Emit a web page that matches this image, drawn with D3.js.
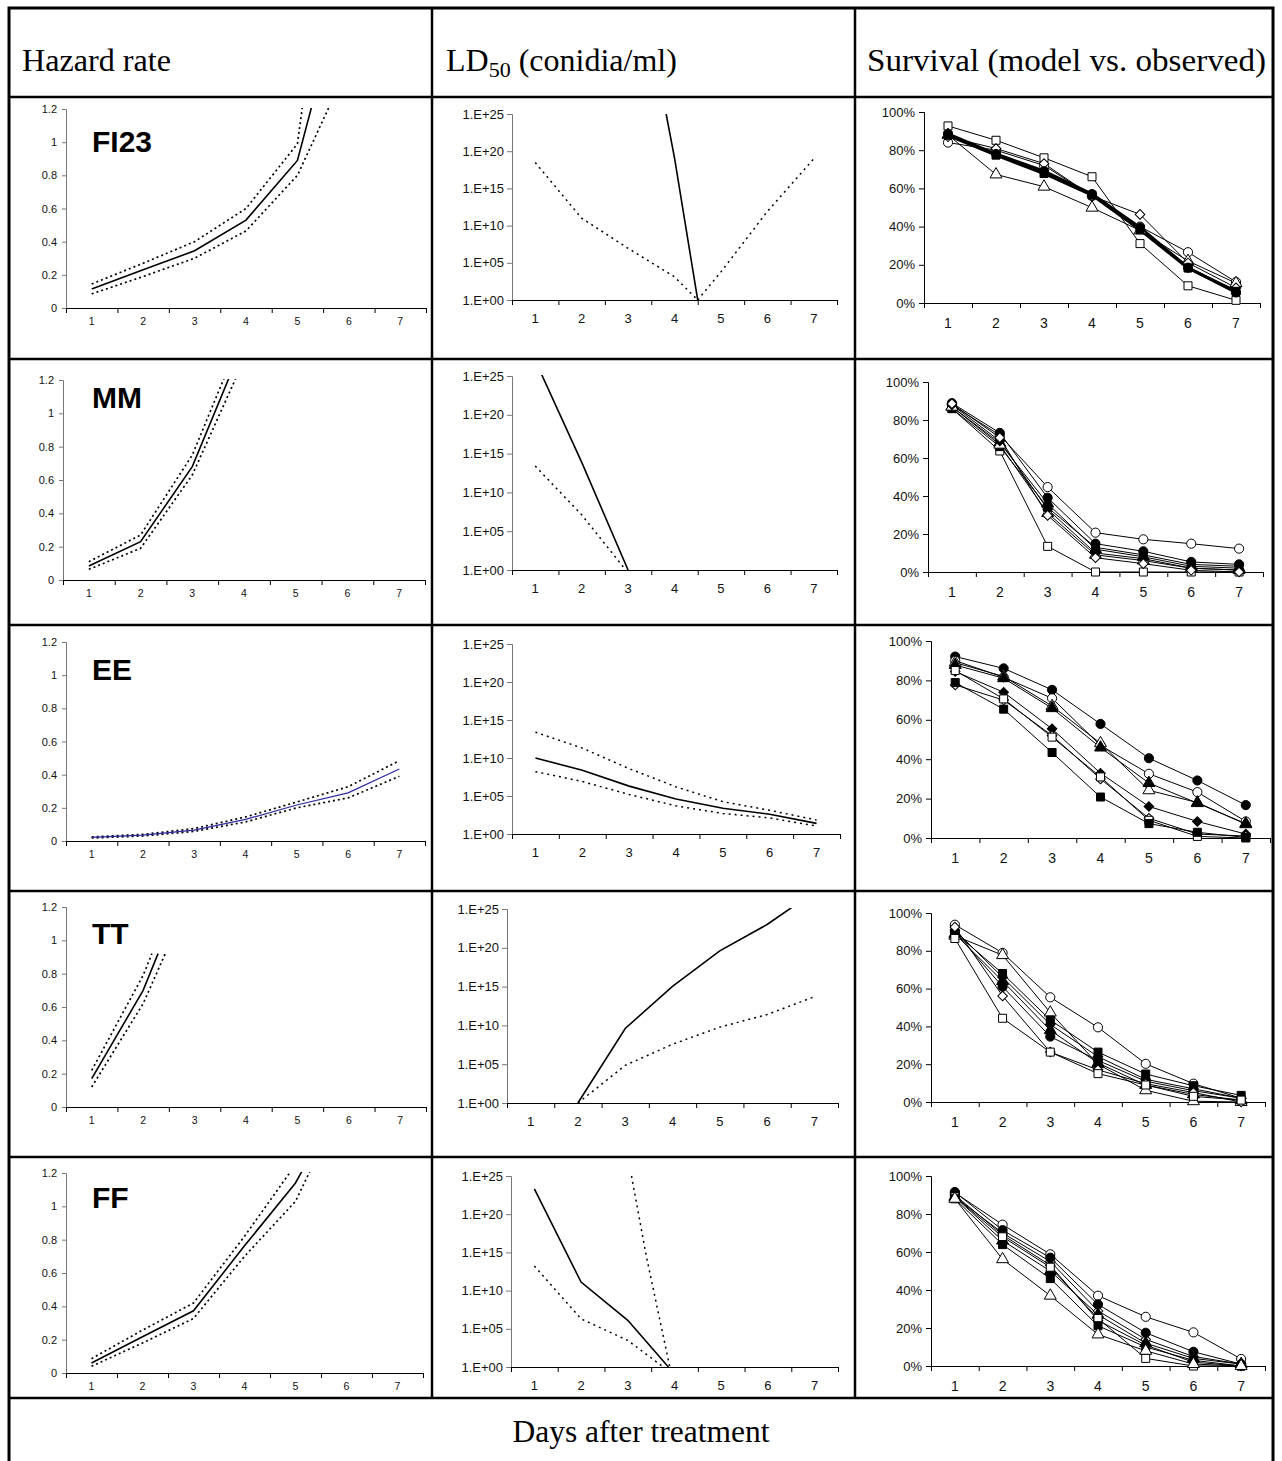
<!DOCTYPE html>
<html lang="en">
<head>
<meta charset="UTF-8">
<title>Hazard rate, LD50 and survival by isolate</title>
<script src="https://cdn.jsdelivr.net/npm/d3@7"></script>
<style>
  body { margin: 0; background: #fff; }
  svg { display: block; }
  .tick text { font-family: Arial, "Liberation Sans", sans-serif; }
</style>
</head>
<body>
<script>
// ---- data ----
const days = [1, 2, 3, 4, 5, 6, 7];
const isolates = ["FI23", "MM", "EE", "TT", "FF"];
const headers = ["Hazard rate", "LD", "Survival (model vs. observed)"];
const footer = "Days after treatment";

const hazardTicks = [0, 0.2, 0.4, 0.6, 0.8, 1, 1.2];
const hazardTickLabels = ["0", "0.2", "0.4", "0.6", "0.8", "1", "1.2"];
const ld50Ticks = [1, 1e5, 1e10, 1e15, 1e20, 1e25];
const ld50TickLabels = ["1.E+00", "1.E+05", "1.E+10", "1.E+15", "1.E+20", "1.E+25"];
const survTicks = [0, 20, 40, 60, 80, 100];

// hazard: [day, rate]   (mid = solid, hi / lo = dotted bounds)
const hazardMid = [
  [[1, .115], [2, .23], [3, .345], [4, .53], [5, .89], [6, 2.06]],
  [[1, .084], [2, .23], [3, .68], [4, 1.43]],
  [[1, .022], [2, .036], [3, .066], [4, .13], [5, .217], [6, .29], [7, .434]],
  [[1, .17], [2, .70], [2.29, .92]],
  [[1, .06], [2, .217], [3, .373], [4, .763], [5, 1.14], [6, 1.7]]
];
const hazardHi = [
  [[1, .145], [2, .27], [3, .40], [4, .60], [5, .99], [6, 3.3]],
  [[1, .11], [2, .27], [3, .75], [4, 1.5]],
  [[1, .025], [2, .04], [3, .075], [4, .145], [5, .235], [6, .327], [7, .484]],
  [[1, .22], [2, .79], [2.17, .92]],
  [[1, .086], [2, .257], [3, .42], [4, .82], [5, 1.25], [6, 1.8]]
];
const hazardLo = [
  [[1, .085], [2, .19], [3, .30], [4, .465], [5, .80], [6, 1.47]],
  [[1, .064], [2, .19], [3, .63], [4, 1.32]],
  [[1, .018], [2, .03], [3, .058], [4, .115], [5, .2], [6, .26], [7, .39]],
  [[1, .12], [2, .62], [2.43, .92]],
  [[1, .04], [2, .18], [3, .327], [4, .70], [5, 1.03], [6, 1.67]]
];

// LD50: [day, conidia/ml]
const ld50Mid = [
  [[3.82, 1e25], [4, 1.3e19], [4.5, 1]],
  [[1, 1e27], [2, 8e13], [3, 1]],
  [[1, 1e10], [2, 2.5e8], [3, 2e6], [4, 4e4], [5, 2.5e3], [6, 4e2], [7, 25]],
  [[2, 1], [3, 4e9], [4, 1.1e15], [5, 4e19], [6, 1e23], [7, 1.6e27]],
  [[1, 2e23], [2, 1.3e11], [3, 1.3e6], [3.87, 1]]
];
const ld50BoundA = [
  [[1, 3e18], [2, 1e11], [3, 9e6], [4, 1.3e3], [4.5, 1]],
  [[1, 2.5e13], [2, 1.3e7], [2.95, 1]],
  [[1, 2.5e13], [2, 2e11], [3, 4e8], [4, 1.6e6], [5, 1.8e4], [6, 1.3e3], [7, 70]],
  [[2, 1], [3, 7e4], [4, 3.7e7], [5, 6e9], [6, 2.5e11], [7, 5e13]],
  [[1, 1.6e13], [2, 2e6], [3, 3e3], [3.76, 1]]
];
const ld50BoundB = [
  [[4.5, 1], [5, 6e3], [6, 8e11], [7, 1e19]],
  [],
  [[1, 1.6e8], [2, 8e6], [3, 1.6e5], [4, 5e3], [5, 5e2], [6, 1.3e2], [7, 11]],
  [],
  [[3.08, 1e25], [3.4, 2.5e14], [3.9, 1]]
];

// survival (%), one row per series: [marker, values day 1..7]
// marker codes: o = open, f = filled; c circle, s square, t triangle, d diamond
const survFI23 = [
  ["os", [92.7, 85.2, 76.0, 66.1, 31.1, 9.0, 1.4]],
  ["oc", [84.0, 80, 72, 56, 40, 26.6, 11.0]],
  ["ot", [88, 67.3, 60.9, 49.9, 38, 22, 10.4]],
  ["od", [87, 80.9, 73, 56, 46.4, 21, 8]],
  ["fs", [87.8, 77.4, 67.8, 56.5, 38.3, 18.3, 6.1]],
  ["fc", [88.5, 78, 69, 57, 39.5, 18.5, 5.5]]
];
const survMM = [
  ["oc", [88, 72, 44.7, 20.7, 17.2, 14.9, 12.3]],
  ["os", [86, 63.7, 13.5, 0, 0, 0, 0]],
  ["fs", [86, 66, 34, 13, 9, 4, 3]],
  ["ft", [87, 68, 36, 12, 8, 3, 2]],
  ["ot", [87, 67, 31, 9, 6, 2, 1]],
  ["fc", [88.9, 73.2, 39.1, 14.9, 10.9, 5.3, 4.0]],
  ["fd", [88, 69, 33, 10, 7, 2, 1]],
  ["od", [88.6, 70.7, 29.8, 7.5, 4.4, 0.9, 0]]
];
const survEE = [
  ["fc", [92.1, 86.1, 75.2, 57.9, 40.5, 29.2, 16.7]],
  ["oc", [90, 81.6, 70.9, 47, 32.6, 23.3, 8.4]],
  ["ot", [89, 82, 67, 48.1, 24.2, 18, 7]],
  ["ft", [87.8, 81.1, 65.9, 45.9, 27.9, 17.7, 7.3]],
  ["fd", [84.5, 74, 55.4, 32.9, 16.0, 8.4, 2]],
  ["od", [77.7, 70, 52, 30, 10, 2, 1]],
  ["os", [85, 70.6, 51.2, 31, 9, 0.8, 0]],
  ["fs", [78.9, 65.4, 43.4, 20.8, 7.3, 2.9, 0.3]]
];
const survTT = [
  ["oc", [93.8, 78.9, 55.4, 39.5, 20.2, 9.7, 2]],
  ["ot", [88, 77.7, 47.3, 20, 6.2, 0.4, 0]],
  ["fd", [91, 66, 41, 24, 12, 7, 2]],
  ["fs", [89.6, 68, 43.4, 26.4, 14.8, 8.6, 3.5]],
  ["ft", [89, 64, 38, 20.6, 9, 4, 1]],
  ["fc", [90, 61, 34.6, 22, 11, 6, 2]],
  ["od", [92.6, 56.1, 26.4, 17, 9.7, 5, 0]],
  ["os", [86.5, 44.3, 26.4, 15, 9, 3, 1]]
];
const survFF = [
  ["oc", [91.2, 74.4, 58.8, 37, 25.9, 17.7, 3.7]],
  ["od", [89, 70, 55, 29, 14, 5, 1]],
  ["fc", [91.6, 71.5, 57, 32.4, 17.5, 7.5, 1]],
  ["fd", [90, 69, 53, 24, 11, 2, 0]],
  ["ft", [89, 66, 50, 27, 12, 4, 1]],
  ["os", [89, 68, 52, 25, 4, 0, 0]],
  ["fs", [88, 63.9, 46, 21.2, 10, 3, 0]],
  ["ot", [88, 56.2, 37, 16.6, 8, 1, 0]]
];
const survival = [survFI23, survMM, survEE, survTT, survFF];
const thickSeries = [["fs", "fc"], [], [], [], []];

// ---- layout (pixels) ----
const W = 1282, H = 1461;
const colX = [9, 432, 855, 1273];
const rowY = [8, 97, 359, 625, 891, 1157, 1398, 1466];
// plot boxes [left, right, top, bottom]
const hazBox = [[66, 426, 109, 308], [63, 425, 380, 580], [66, 425, 642, 841], [66, 426, 907, 1107], [66, 423, 1173, 1373]];
const ldBox = [[512, 837, 114, 300], [512, 837, 376, 570], [512, 840, 644, 834], [507, 838, 909, 1103], [511, 838, 1176, 1367]];
const survBox = [[924, 1260, 112, 303], [928, 1263, 382, 572], [931, 1270, 641, 838], [931, 1265, 913, 1102], [931, 1265, 1176, 1366]];
const labelBaseline = [152, 408, 680, 944, 1208];

const svg = d3.select("body").append("svg").attr("width", W).attr("height", H);
const defs = svg.append("defs");

// table grid
const grid = svg.append("g").attr("stroke", "#000").attr("fill", "none");
grid.append("rect").attr("x", colX[0]).attr("y", rowY[0])
  .attr("width", colX[3] - colX[0]).attr("height", rowY[7] - rowY[0]).attr("stroke-width", 3);
rowY.slice(1, 7).forEach(y => grid.append("line")
  .attr("x1", colX[0]).attr("x2", colX[3]).attr("y1", y).attr("y2", y).attr("stroke-width", 2.5));
[colX[1], colX[2]].forEach(x => grid.append("line")
  .attr("x1", x).attr("x2", x).attr("y1", rowY[0]).attr("y2", rowY[6]).attr("stroke-width", 2.5));

// header texts
const serif = "'Liberation Serif', 'Times New Roman', serif";
const head = svg.append("g").attr("font-family", serif).attr("font-size", 32).attr("fill", "#000");
head.append("text").attr("x", 22).attr("y", 71).attr("textLength", 149).attr("lengthAdjust", "spacingAndGlyphs").text(headers[0]);
const ldText = head.append("text").attr("x", 446).attr("y", 71);
ldText.append("tspan").text(headers[1]);
ldText.append("tspan").attr("font-size", 22).attr("dy", 6).text("50");
ldText.append("tspan").attr("dy", -6).text(" (conidia/ml)");
head.append("text").attr("x", 867).attr("y", 71).attr("textLength", 399).attr("lengthAdjust", "spacingAndGlyphs").text(headers[2]);
head.append("text").attr("x", 641).attr("y", 1442).attr("text-anchor", "middle").attr("font-size", 31.5).text(footer);

function clip(id, box) {
  defs.append("clipPath").attr("id", id).append("rect")
    .attr("x", box[0]).attr("y", box[2] - 1).attr("width", box[1] - box[0]).attr("height", box[3] - box[2] + 1);
  return `url(#${id})`;
}

function dayAxis(g, x, box, size, dy) {
  g.append("g").attr("transform", `translate(0,${box[3]})`)
    .call(d3.axisBottom(x).tickValues(d3.range(0.5, 8, 1)).tickSize(5).tickFormat(""))
    .call(a => a.select(".domain").attr("stroke", "#000"))
    .call(a => a.selectAll(".tick line").attr("stroke", "#000"));
  g.append("g").selectAll("text").data(days).join("text")
    .attr("x", d => x(d)).attr("y", box[3] + dy)
    .attr("text-anchor", "middle").attr("font-family", "Arial, 'Liberation Sans', sans-serif")
    .attr("font-size", size).attr("fill", "#111").text(d => d);
}

function styleLeft(a, size, col) {
  a.select(".domain").attr("stroke", col);
  a.selectAll(".tick line").attr("stroke", col);
  a.selectAll(".tick text").attr("font-size", size).attr("fill", "#111");
}

// ---- hazard panels ----
isolates.forEach((name, i) => {
  const box = hazBox[i];
  const g = svg.append("g");
  const x = d3.scaleLinear().domain([0.5, 7.5]).range([box[0], box[1]]);
  const y = d3.scaleLinear().domain([0, 1.2]).range([box[3], box[2]]);
  g.append("g").attr("transform", `translate(${box[0]},0)`)
    .call(d3.axisLeft(y).tickValues(hazardTicks).tickSize(4).tickPadding(5)
      .tickFormat((d, k) => hazardTickLabels[k]))
    .call(a => styleLeft(a, 11, "#777"));
  dayAxis(g, x, box, 10.5, 17);
  const line = d3.line().x(d => x(d[0])).y(d => y(d[1]));
  const plot = g.append("g").attr("clip-path", clip("hz" + i, box)).attr("fill", "none");
  [hazardHi[i], hazardLo[i]].forEach(s => plot.append("path").attr("d", line(s))
    .attr("stroke", "#000").attr("stroke-width", 1.7).attr("stroke-dasharray", "2,3"));
  plot.append("path").attr("d", line(hazardMid[i]))
    .attr("stroke", name === "EE" ? "#2a2aa0" : "#000").attr("stroke-width", name === "EE" ? 1.2 : 1.6);
  g.append("text").attr("x", 92).attr("y", labelBaseline[i])
    .attr("font-family", "Arial, 'Liberation Sans', sans-serif").attr("font-weight", "bold")
    .attr("font-size", 30).text(name);
});

// ---- LD50 panels ----
isolates.forEach((name, i) => {
  const box = ldBox[i];
  const g = svg.append("g");
  const x = d3.scaleLinear().domain([0.5, 7.5]).range([box[0], box[1]]);
  const y = d3.scaleLog().domain([1, 1e25]).range([box[3], box[2]]);
  g.append("g").attr("transform", `translate(${box[0]},0)`)
    .call(d3.axisLeft(y).tickValues(ld50Ticks).tickSize(5).tickPadding(3)
      .tickFormat((d, k) => ld50TickLabels[k]))
    .call(a => styleLeft(a, 13, "#777"));
  dayAxis(g, x, box, 13, 23);
  const line = d3.line().x(d => x(d[0])).y(d => y(d[1]));
  const plot = g.append("g").attr("clip-path", clip("ld" + i, box)).attr("fill", "none");
  [ld50BoundA[i], ld50BoundB[i]].filter(s => s.length).forEach(s => plot.append("path")
    .attr("d", line(s)).attr("stroke", "#000").attr("stroke-width", 1.5).attr("stroke-dasharray", "2,4"));
  plot.append("path").attr("d", line(ld50Mid[i])).attr("stroke", "#000").attr("stroke-width", 1.6);
});

// ---- survival panels ----
const shapes = { c: d3.symbolCircle, s: d3.symbolSquare, t: d3.symbolTriangle, d: d3.symbolSquare };
const sizes = { c: 66, s: 64, t: 62, d: 46 };
isolates.forEach((name, i) => {
  const box = survBox[i];
  const g = svg.append("g");
  const x = d3.scaleLinear().domain([0.5, 7.5]).range([box[0], box[1]]);
  const y = d3.scaleLinear().domain([0, 100]).range([box[3], box[2]]);
  g.append("g").attr("transform", `translate(${box[0]},0)`)
    .call(d3.axisLeft(y).tickValues(survTicks).tickSize(5).tickPadding(4).tickFormat(d => d + "%"))
    .call(a => styleLeft(a, 13, "#000"));
  dayAxis(g, x, box, 14, 25);
  const line = d3.line().x((d, k) => x(days[k])).y(d => y(d));
  const series = survival[i];
  const thick = thickSeries[i];
  series.forEach(([m, v]) => g.append("path").attr("d", line(v)).attr("fill", "none")
    .attr("stroke", "#000").attr("stroke-width", thick.includes(m) ? 3 : 1));
  series.forEach(([m, v]) => {
    const kind = m[1], filled = m[0] === "f";
    const sym = d3.symbol().type(shapes[kind]).size(sizes[kind]);
    g.append("g").selectAll("path").data(v).join("path")
      .attr("d", sym)
      .attr("transform", (d, k) => `translate(${x(days[k])},${y(d)})` + (kind === "d" ? " rotate(45)" : ""))
      .attr("fill", filled ? "#000" : "#fff").attr("stroke", "#000").attr("stroke-width", 1);
  });
});
</script>
</body>
</html>
